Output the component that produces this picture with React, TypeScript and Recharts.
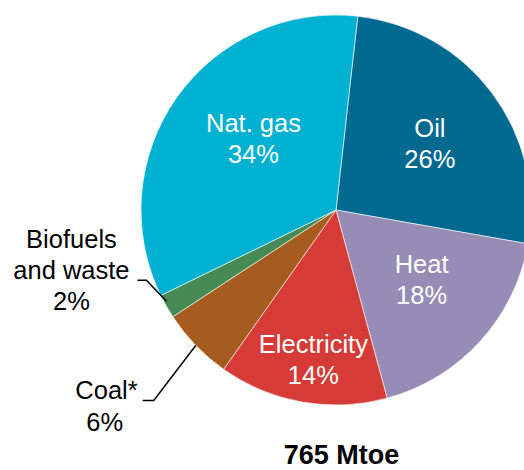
import { PieChart, Pie, Cell } from "recharts";

document.body.style.margin = "0";

const categories = ["Oil", "Heat", "Electricity", "Coal*", "Biofuels and waste", "Nat. gas"];
const shares = [26, 18, 14, 6, 2, 34];
const COLORS = ["#00698F", "#968CB5", "#D63B37", "#A65B1F", "#478A55", "#00B1D2"];
const TOTAL_LABEL = "765 Mtoe";

const chartData = categories.map((name, i) => ({ name, value: shares[i] }));

const RADIAN = Math.PI / 180;
const FONT = "'Liberation Sans', Arial, sans-serif";
const LABEL_SIZE = 25.5;

// inside labels: fraction of radius and small angle nudge (deg)
const insidePos: Record<string, { r: number; da: number }> = {
  Oil: { r: 0.59, da: -1.5 },
  Heat: { r: 0.564, da: 3.5 },
  Electricity: { r: 0.776, da: 1.4 },
  "Nat. gas": { r: 0.56, da: -5.7 },
};

function renderLabel(props: any) {
  const { cx, cy, midAngle, outerRadius, name, value } = props;

  const pos = insidePos[name];
  if (pos) {
    const a = (midAngle + pos.da) * RADIAN;
    const r = outerRadius * pos.r;
    const x = cx + r * Math.cos(a);
    const y = cy - r * Math.sin(a);
    return (
      <text fill="#fff" fontFamily={FONT} fontSize={LABEL_SIZE} textAnchor="middle" dominantBaseline="central">
        <tspan x={x} y={y - 15.5}>{name}</tspan>
        <tspan x={x} y={y + 15.5}>{value}%</tspan>
      </text>
    );
  }

  const ex = cx + outerRadius * Math.cos(midAngle * RADIAN);
  const ey = cy - outerRadius * Math.sin(midAngle * RADIAN);

  if (name === "Coal*") {
    const mx = ex - 42;
    const my = ey + 55;
    const tx = mx - 11;
    return (
      <g>
        <polyline points={`${ex},${ey} ${mx},${my} ${tx},${my}`} fill="none" stroke="#000" strokeWidth={1.5} />
        <text fill="#000" fontFamily={FONT} fontSize={LABEL_SIZE} textAnchor="end" x={tx - 5} y={my - 1}>
          {name}
        </text>
        <text fill="#000" fontFamily={FONT} fontSize={LABEL_SIZE} textAnchor="middle" x={tx - 38} y={my + 31}>
          {value}%
        </text>
      </g>
    );
  }

  // biofuels and waste
  const sx = ex;
  const sy = ey - 5;
  const mx = ex - 20;
  const my = ey - 26;
  const tx = mx - 9;
  const lx = tx - 66;
  return (
    <g>
      <polyline points={`${sx},${sy} ${mx},${my} ${tx},${my}`} fill="none" stroke="#000" strokeWidth={1.5} />
      <text fill="#000" fontFamily={FONT} fontSize={LABEL_SIZE} textAnchor="middle">
        <tspan x={lx} y={my - 32}>Biofuels</tspan>
        <tspan x={lx} y={my - 1}>and waste</tspan>
        <tspan x={lx} y={my + 30}>{value}%</tspan>
      </text>
    </g>
  );
}

export default function App() {
  return (
    <div style={{ width: 524, height: 470, background: "#fff", overflow: "hidden" }}>
      <PieChart width={524} height={470} margin={{ top: 0, right: 0, bottom: 0, left: 0 }}>
        <Pie
          data={chartData}
          dataKey="value"
          nameKey="name"
          cx={336}
          cy={210}
          outerRadius={195}
          startAngle={83.6}
          endAngle={-276.4}
          stroke="#ffffff"
          strokeWidth={0.6}
          label={renderLabel}
          labelLine={false}
          isAnimationActive={false}
        >
          {chartData.map((_, i) => (
            <Cell key={i} fill={COLORS[i % COLORS.length]} />
          ))}
        </Pie>
        <text x={341.5} y={464} textAnchor="middle" fontFamily={FONT} fontSize={27} fontWeight="bold" fill="#000">
          {TOTAL_LABEL}
        </text>
      </PieChart>
    </div>
  );
}
